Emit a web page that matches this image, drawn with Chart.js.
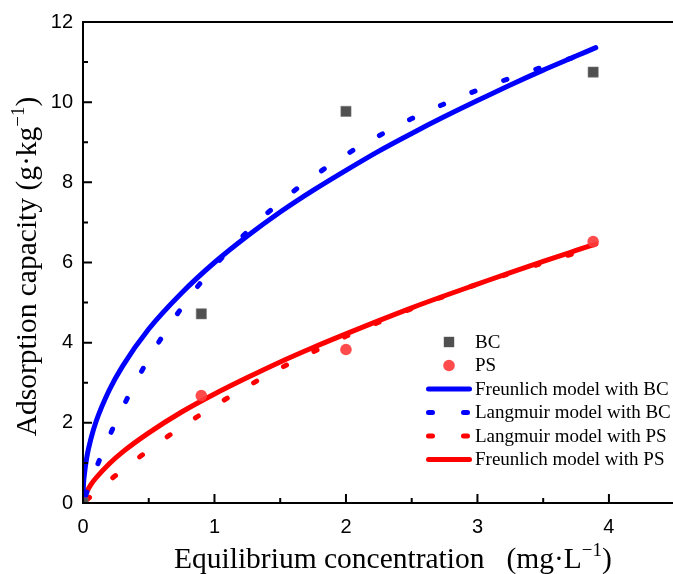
<!DOCTYPE html>
<html><head><meta charset="utf-8">
<script src="https://cdn.jsdelivr.net/npm/chart.js@4.4.1/dist/chart.umd.min.js"></script>
<style>html,body{margin:0;padding:0;background:#fff;}canvas{display:block}</style>
</head><body>
<canvas id="c" width="673" height="574"></canvas>
<script>
// Experimental points
const bcX = [0, 0.9, 2.0, 3.88];
const bcY = [0, 4.72, 9.77, 10.75];
const psX = [0, 0.9, 2.0, 3.88];
const psY = [0, 2.68, 3.83, 6.52];

// Fitted curves
const freX  = [0, 0.002, 0.01, 0.03, 0.06, 0.1, 0.2, 0.3, 0.5, 0.75, 1, 1.25, 1.5, 1.75, 2, 2.25, 2.5, 2.75, 3, 3.25, 3.5, 3.75, 3.9];
const freBC = [0, 0.33, 0.69, 1.16, 1.60, 2.04, 2.82, 3.41, 4.34, 5.24, 6.00, 6.66, 7.26, 7.80, 8.30, 8.78, 9.22, 9.64, 10.04, 10.43, 10.80, 11.15, 11.36];
const frePS = [0, 0.05, 0.15, 0.29, 0.46, 0.63, 0.98, 1.27, 1.75, 2.27, 2.72, 3.13, 3.52, 3.88, 4.22, 4.55, 4.87, 5.17, 5.46, 5.75, 6.03, 6.30, 6.46];
const langX  = [0, 0.05, 0.1, 0.2, 0.3, 0.5, 0.75, 1, 1.25, 1.5, 1.75, 2, 2.25, 2.5, 2.75, 3, 3.25, 3.5, 3.75, 3.9];
const langBC = [0, 0.45, 0.87, 1.66, 2.37, 3.60, 4.87, 5.91, 6.77, 7.51, 8.14, 8.69, 9.16, 9.59, 9.96, 10.30, 10.60, 10.88, 11.13, 11.27];
const langPS = [0, 0.14, 0.285, 0.56, 0.82, 1.32, 1.90, 2.42, 2.91, 3.36, 3.77, 4.16, 4.51, 4.85, 5.16, 5.46, 5.73, 5.99, 6.24, 6.38];

const xTicks = [0, 1, 2, 3, 4];
const yTicks = [0, 2, 4, 6, 8, 10, 12];
const xMinor = [0.5, 1.5, 2.5, 3.5];
const yMinor = [1, 3, 5, 7, 9, 11];

const legendLabels = ['BC', 'PS', 'Freunlich model with BC', 'Langmuir model with BC', 'Langmuir model with PS', 'Freunlich model with PS'];

const pts = (xs, ys) => xs.map((x, i) => ({x: x, y: ys[i]}));

const BLUE = '#0000ff', RED = '#ff0000', GRAY = '#505050', PSRED = 'rgba(255,60,60,0.92)';

const datasets = [
  {label: legendLabels[0], data: pts(bcX, bcY), pointStyle: 'rect', pointRadius: 7.2, backgroundColor: GRAY, borderColor: '#777', borderWidth: 0.6, showLine: false},
  {label: legendLabels[1], data: pts(psX, psY), pointStyle: 'circle', pointRadius: 5.8, backgroundColor: PSRED, borderColor: PSRED, borderWidth: 0, showLine: false},
  {label: legendLabels[2], data: pts(freX, freBC), showLine: true, pointRadius: 0, borderColor: BLUE, borderWidth: 5, borderCapStyle: 'round', borderJoinStyle: 'round', cubicInterpolationMode: 'monotone', kind: 'solid'},
  {label: legendLabels[3], data: pts(langX, langBC), showLine: true, pointRadius: 0, borderColor: BLUE, borderWidth: 5, borderDash: [3.5, 30.5], borderDashOffset: 26, borderCapStyle: 'round', cubicInterpolationMode: 'monotone', kind: 'dash'},
  {label: legendLabels[4], data: pts(langX, langPS), showLine: true, pointRadius: 0, borderColor: RED, borderWidth: 5, borderDash: [3.5, 30.5], borderDashOffset: 29, borderCapStyle: 'round', cubicInterpolationMode: 'monotone', kind: 'dash'},
  {label: legendLabels[5], data: pts(freX, frePS), showLine: true, pointRadius: 0, borderColor: RED, borderWidth: 5, borderCapStyle: 'round', borderJoinStyle: 'round', cubicInterpolationMode: 'monotone', kind: 'solid'}
];

const SERIF = '"Liberation Serif", "Times New Roman", serif';
const SANS = '"Liberation Sans", Arial, sans-serif';

const framePlugin = {
  id: 'frame',
  afterDraw(chart) {
    const ctx = chart.ctx, a = chart.chartArea;
    const xs = chart.scales.x, ys = chart.scales.y;
    ctx.save();
    ctx.strokeStyle = '#000';
    ctx.lineWidth = 2;
    ctx.lineCap = 'butt';
    // frame lines: left, bottom, top
    ctx.beginPath();
    ctx.moveTo(a.left, a.top); ctx.lineTo(a.left, a.bottom + 1);
    ctx.moveTo(a.left - 1, a.bottom); ctx.lineTo(673, a.bottom);
    ctx.moveTo(a.left - 1, a.top); ctx.lineTo(673, a.top);
    ctx.stroke();
    // inward ticks
    ctx.beginPath();
    xTicks.forEach(v => { const p = xs.getPixelForValue(v); ctx.moveTo(p, a.bottom); ctx.lineTo(p, a.bottom - 9); });
    xMinor.forEach(v => { const p = xs.getPixelForValue(v); ctx.moveTo(p, a.bottom); ctx.lineTo(p, a.bottom - 5); });
    yTicks.forEach(v => { const p = ys.getPixelForValue(v); ctx.moveTo(a.left, p); ctx.lineTo(a.left + 9, p); });
    yMinor.forEach(v => { const p = ys.getPixelForValue(v); ctx.moveTo(a.left, p); ctx.lineTo(a.left + 5, p); });
    ctx.stroke();

    // legend
    const lx0 = 426, lx1 = 472, tx = 475, rowY = [342, 365.5, 389, 412.5, 436, 459.5];
    ctx.font = '19px ' + SERIF;
    ctx.textBaseline = 'middle';
    ctx.textAlign = 'left';
    chart.data.datasets.forEach((ds, i) => {
      const y = rowY[i];
      ctx.save();
      if (i === 0) {
        const s = 10.4;
        ctx.fillStyle = ds.backgroundColor;
        ctx.fillRect(449 - s / 2, y - s / 2, s, s);
      } else if (i === 1) {
        ctx.fillStyle = ds.backgroundColor;
        ctx.beginPath(); ctx.arc(449, y, 5.8, 0, Math.PI * 2); ctx.fill();
      } else {
        ctx.strokeStyle = ds.borderColor;
        ctx.lineWidth = ds.borderWidth;
        ctx.lineCap = 'round';
        if (ds.kind === 'dash') {
          ctx.beginPath();
          ctx.moveTo(lx0 + 2.5, y); ctx.lineTo(lx0 + 6.5, y);
          ctx.moveTo(lx1 - 8.5, y); ctx.lineTo(lx1 - 4.5, y);
          ctx.stroke();
        } else {
          ctx.beginPath(); ctx.moveTo(lx0 + 2.5, y); ctx.lineTo(lx1 - 2.5, y); ctx.stroke();
        }
      }
      ctx.restore();
      ctx.fillStyle = '#000';
      ctx.fillText(ds.label, tx, y + 1);
    });

    // axis titles
    const big = '29.5px ' + SERIF, sup = '19px ' + SERIF;
    ctx.fillStyle = '#000';
    ctx.textBaseline = 'alphabetic';
    // x title
    let x = 174; const by = 568;
    const parts = [
      {t: 'Equilibrium concentration', f: big, dy: 0, gap: 0},
      {t: '(mg\u00B7L', f: big, dy: 0, gap: 22},
      {t: '\u22121', f: sup, dy: -12, gap: 0},
      {t: ')', f: big, dy: 0, gap: 0}
    ];
    parts.forEach(p => { x += p.gap; ctx.font = p.f; ctx.fillText(p.t, x, by + p.dy); x += ctx.measureText(p.t).width; });
    // y title
    const yparts = [
      {t: 'Adsorption capacity (g\u00B7kg', f: big, dy: 0},
      {t: '\u22121', f: sup, dy: -12},
      {t: ')', f: big, dy: 0}
    ];
    let total = 0;
    yparts.forEach(p => { ctx.font = p.f; total += ctx.measureText(p.t).width; });
    ctx.translate(35.5, 266.5);
    ctx.rotate(-Math.PI / 2);
    let yx = -total / 2;
    yparts.forEach(p => { ctx.font = p.f; ctx.fillText(p.t, yx, p.dy); yx += ctx.measureText(p.t).width; });
    ctx.restore();
  }
};

new Chart(document.getElementById('c'), {
  type: 'scatter',
  data: {datasets: datasets},
  options: {
    responsive: false,
    animation: false,
    devicePixelRatio: 1,
    layout: {padding: {top: 21, right: 0, left: 0, bottom: 0}},
    plugins: {legend: {display: false}, tooltip: {enabled: false}},
    elements: {line: {tension: 0.4}},
    scales: {
      x: {
        type: 'linear', min: 0, max: 4.428,
        afterBuildTicks: s => { s.ticks = xTicks.map(v => ({value: v})); },
        afterFit: s => { s.height = 71; },
        grid: {display: false, drawTicks: false},
        border: {display: false},
        ticks: {padding: 12, color: '#000', font: {family: SANS, size: 20}, maxRotation: 0}
      },
      y: {
        type: 'linear', min: 0, max: 12,
        afterBuildTicks: s => { s.ticks = yTicks.map(v => ({value: v})); },
        afterFit: s => { s.width = 83; },
        grid: {display: false, drawTicks: false},
        border: {display: false},
        ticks: {padding: 10, color: '#000', font: {family: SANS, size: 20}}
      }
    }
  },
  plugins: [framePlugin]
});
</script>
</body></html>
